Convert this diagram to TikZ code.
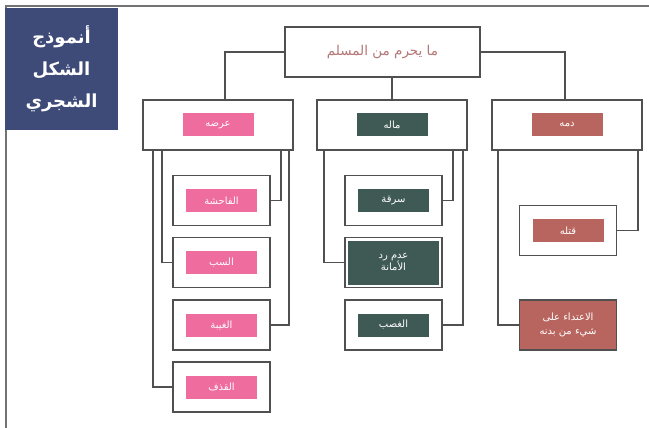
\documentclass[tikz,border=0pt]{standalone}
\usepackage{fontspec}
\newfontfamily\arabicfont[Script=Arabic]{DejaVu Sans}
\TeXXeTstate=1
\definecolor{titleblue}{RGB}{62,74,120}
\definecolor{rosepink}{RGB}{238,108,158}
\definecolor{slategreen}{RGB}{63,90,85}
\definecolor{brickred}{RGB}{185,101,95}
\definecolor{toptext}{RGB}{180,118,118}
\definecolor{linegrey}{RGB}{80,80,80}
\newcommand{\artxt}[1]{\beginR #1\endR}
\begin{document}
\begin{tikzpicture}[x=1pt,y=-1pt,
  box/.style={draw=linegrey, line width=1.6pt, fill=white, minimum width=97pt, minimum height=50pt, inner sep=0pt},
  midbox/.style={box, minimum width=150pt},
  tag/.style={text=white, minimum width=71pt, minimum height=23pt, inner sep=0pt, font=\arabicfont\fontsize{10}{12}\selectfont},
  link/.style={draw=linegrey, line width=1.8pt}]
\useasboundingbox[fill=white] (0,0) rectangle (649,428);
\draw[linegrey!80, line width=2pt] (6,428) -- (6,6) -- (649,6);
% title
\node[fill=titleblue, minimum width=113pt, minimum height=122pt, inner sep=0pt, text=white, align=center,
  font=\arabicfont\bfseries\fontsize{18}{32}\selectfont] (title) at (61.5,69)
  {\artxt{أنموذج}\\ \artxt{الشكل}\\ \artxt{الشجري}};
% root
\node[box, minimum width=195pt, text=toptext, font=\arabicfont\fontsize{13.5}{15}\selectfont] (top) at (382.5,52) {\artxt{ما يحرم من المسلم}};
% second level
\node[midbox] (arda) at (218,125) {};
\node[tag, fill=rosepink] (ardatag) at (arda) {\artxt{عرضه}};
\node[midbox] (mal) at (392,125) {};
\node[tag, fill=slategreen] (maltag) at (mal) {\artxt{ماله}};
\node[midbox] (dam) at (567,125) {};
\node[tag, fill=brickred] (damtag) at (dam) {\artxt{دمه}};
% children of arda
\node[box] (fahisha) at (221.5,200.5) {};
\node[tag, fill=rosepink] at (fahisha) {\artxt{الفاحشة}};
\node[box] (sabb) at (221.5,262.5) {};
\node[tag, fill=rosepink] at (sabb) {\artxt{السب}};
\node[box] (ghiba) at (221.5,325) {};
\node[tag, fill=rosepink] at (ghiba) {\artxt{الغيبة}};
\node[box] (qadhf) at (221.5,387) {};
\node[tag, fill=rosepink] at (qadhf) {\artxt{القذف}};
% children of mal
\node[box] (sariqa) at (393.5,200.5) {};
\node[tag, fill=slategreen] at (sariqa) {\artxt{سرقة}};
\node[box] (amana) at (393.5,262.5) {};
\node[tag, fill=slategreen, minimum width=91pt, minimum height=44pt, align=center] at (amana) {\artxt{عدم رد}\\ \artxt{الأمانة}};
\node[box] (ghasb) at (393.5,325) {};
\node[tag, fill=slategreen] at (ghasb) {\artxt{الغصب}};
% children of dam
\node[box] (qatl) at (568,230.5) {};
\node[tag, fill=brickred] at (qatl) {\artxt{قتله}};
\node[box, fill=brickred, text=white, align=center, font=\arabicfont\fontsize{10}{14}\selectfont] (itida) at (568,325)
  {\artxt{الاعتداء على}\\ \artxt{شيء من بدنه}};
% connectors
\draw[link] (top.west) -| ([xshift=7pt]arda.north);
\draw[link] (mal.north) -- (mal.north |- top.south);
\draw[link] (top.east) -| ([xshift=-2pt]dam.north);
\draw[link] ([xshift=11pt]arda.south west) |- (qadhf.west);
\draw[link] ([xshift=20pt]arda.south west) |- (sabb.west);
\draw[link] ([xshift=-13pt]arda.south east) |- (fahisha.east);
\draw[link] ([xshift=-5pt]arda.south east) |- (ghiba.east);
\draw[link] ([xshift=8pt]mal.south west) |- (amana.west);
\draw[link] ([xshift=-15pt]mal.south east) |- (sariqa.east);
\draw[link] ([xshift=-5pt]mal.south east) |- (ghasb.east);
\draw[link] ([xshift=7pt]dam.south west) |- (itida.west);
\draw[link] ([xshift=-5pt]dam.south east) |- (qatl.east);
\end{tikzpicture}
\end{document}
